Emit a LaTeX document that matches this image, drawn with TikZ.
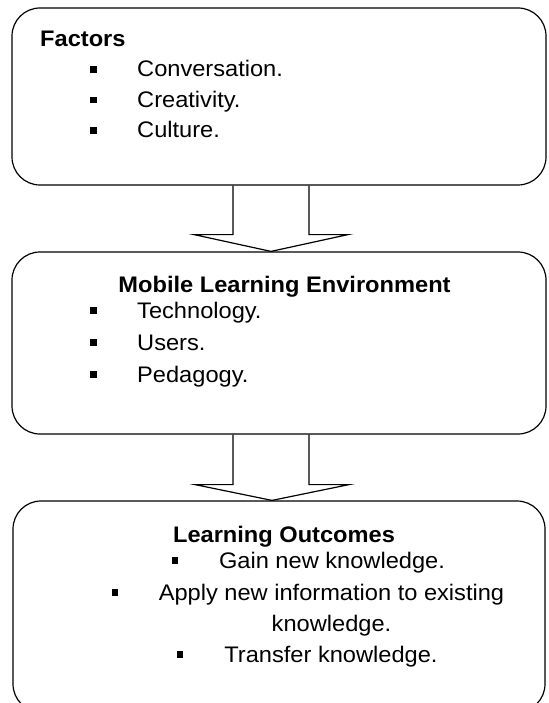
\documentclass[tikz,border=0pt]{standalone}
\usepackage{fontspec}
\setmainfont[FakeStretch=1.05]{Liberation Sans}
\usepackage{tikz}
\usetikzlibrary{positioning,calc}
\tikzstyle{stage} = [rectangle, draw, line width=1.2pt, rounded corners=28pt, minimum width=534pt, inner sep=0pt]
\tikzstyle{heading} = [font=\fontsize{22.5}{27}\selectfont\bfseries, inner sep=0pt]
\tikzstyle{point} = [font=\fontsize{22.5}{27}\selectfont, anchor=base west, inner sep=0pt]
\tikzstyle{bullet} = [rectangle, fill=black, minimum size=6.5pt, inner sep=0pt]
\tikzstyle{flow} = [line width=1.2pt, line join=miter]

\begin{document}
\begin{tikzpicture}[x=1pt, y=-1pt]
    \useasboundingbox (0,0) rectangle (548,703);

    % the three stages
    \node[stage, minimum height=177pt] (factors) at (279,96.5) {};
    \node[stage, minimum height=182pt] (mle) at (279,343) {};
    \node[stage, minimum height=211pt, minimum width=532pt] (outcomes) at (279,606.5) {};

    % block arrows between them
    \draw[flow] ($(factors.south)+(-46,0)$) -- ++(0,49) -- ++(-39,0) -- ($(mle.north)+(-8,0)$)
        -- ($(factors.south)+(69,49)$) -- ++(-39,0) -- ++(0,-49);
    \draw[flow] ($(mle.south)+(-46,0)$) -- ++(0,50) -- ++(-38,0) -- ($(outcomes.north)+(-7,0)$)
        -- ($(mle.south)+(70,50)$) -- ++(-40,0) -- ++(0,-50);

    \node[heading, anchor=base west] (ftitle) at (40,47) {Factors};
    \node[bullet] (fb1) at (93.5,69.5) {};
    \node[point] (f1) at (137,77) {Conversation.};
    \node[bullet] (fb2) at (93.5,100) {};
    \node[point] (f2) at (137,107.5) {Creativity.};
    \node[bullet] (fb3) at (93.5,130.5) {};
    \node[point] (f3) at (137,138) {Culture.};

    \node[heading, anchor=base] (mtitle) at (284.5,292) {Mobile Learning Environment};
    \node[bullet] (mb1) at (93.5,310.5) {};
    \node[point] (m1) at (137,318) {Technology.};
    \node[bullet] (mb2) at (93.5,342.5) {};
    \node[point] (m2) at (137,350) {Users.};
    \node[bullet] (mb3) at (93.5,374.5) {};
    \node[point] (m3) at (137,382) {Pedagogy.};

    \node[heading, anchor=base] (otitle) at (284,542) {Learning Outcomes};
    \node[bullet] (ob1) at (175,560.5) {};
    \node[point, anchor=base] (o1) at (332,568) {Gain new knowledge.};
    \node[bullet] (ob2) at (115,592.5) {};
    \node[point, anchor=base] (o2) at (331.5,600) {Apply new information to existing};
    \node[point, anchor=base] (o2b) at (331.5,631) {knowledge.};
    \node[bullet] (ob3) at (180,654.5) {};
    \node[point, anchor=base] (o3) at (331,662) {Transfer knowledge.};
\end{tikzpicture}
\end{document}
